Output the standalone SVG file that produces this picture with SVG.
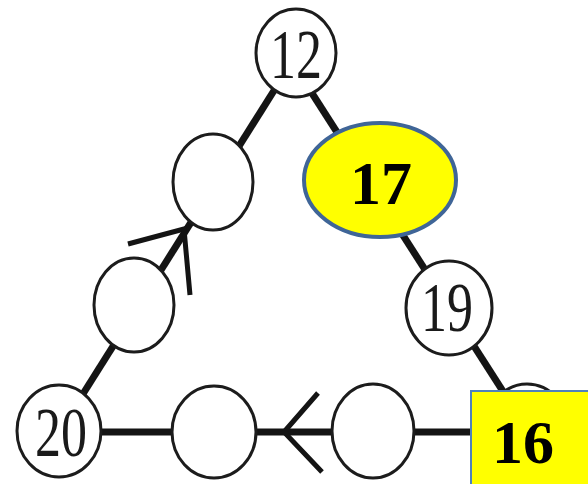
<svg xmlns="http://www.w3.org/2000/svg" width="588" height="484" viewBox="0 0 588 484">
<style>
.edge{stroke:#141414;stroke-width:7;fill:none;stroke-linecap:butt}
.arrow{stroke:#141414;stroke-width:5;fill:none;stroke-linecap:butt;stroke-linejoin:miter}
.node{fill:#fff;stroke:#1c1c1c;stroke-width:3}
.num{font-family:"Liberation Serif","Times New Roman",serif;font-size:52px;fill:#1a1a1a;text-anchor:middle}
.hl{font-family:"Liberation Serif","Times New Roman",serif;font-size:62px;font-weight:bold;fill:#000;text-anchor:middle}
</style>
<rect width="588" height="484" fill="#fff"/>
<g id="connectors">
<line class="edge" x1="59" y1="432" x2="292" y2="62"/>
<line class="edge" x1="292" y1="62" x2="529" y2="432"/>
<line class="edge" x1="59" y1="432" x2="529" y2="432"/>
<polyline class="arrow" points="128,244 184,229 190,295"/>
<polyline class="arrow" points="318,393 284,432 322,472"/>
</g>
<g id="n12"><ellipse class="node" cx="296" cy="53" rx="40" ry="44"/><text class="num" transform="translate(296,55) scale(1,1.33)" y="17.5">12</text></g>
<g id="nA"><ellipse class="node" cx="213" cy="182" rx="40" ry="48"/></g>
<g id="nB"><ellipse class="node" cx="134" cy="305" rx="40" ry="47"/></g>
<g id="n20"><ellipse class="node" cx="59" cy="431" rx="42" ry="46"/><text class="num" transform="translate(61,433) scale(1,1.33)" y="17.5">20</text></g>
<g id="nC"><ellipse class="node" cx="214" cy="432" rx="42" ry="46"/></g>
<g id="nD"><ellipse class="node" cx="373" cy="431" rx="41" ry="47"/></g>
<g id="n19"><ellipse class="node" cx="449" cy="308" rx="43" ry="47"/><text class="num" transform="translate(447,307) scale(1,1.36)" y="17.5">19</text></g>
<g id="n16hidden"><ellipse class="node" cx="527" cy="431" rx="42" ry="47"/></g>
<g id="n17"><ellipse cx="380" cy="180" rx="76" ry="57" fill="#ffff00" stroke="#3f6597" stroke-width="4"/><text class="hl" x="381" y="204">17</text></g>
<g id="n16"><rect x="471" y="391" width="130" height="100" fill="#ffff00" stroke="#4f81bd" stroke-width="2"/><text class="hl" x="523" y="463">16</text></g>
</svg>
